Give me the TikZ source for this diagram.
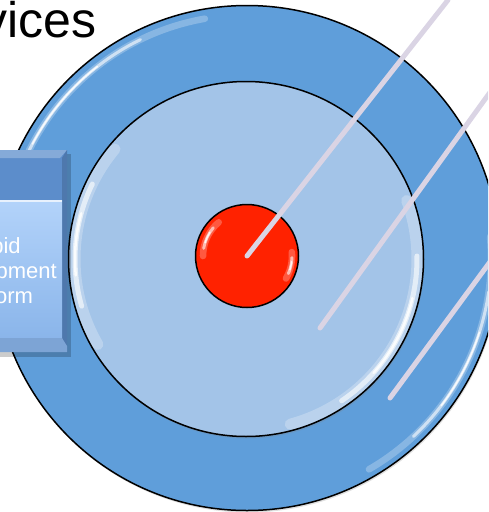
\documentclass[tikz,border=0pt]{standalone}
\usepackage{fontspec}
\setmainfont{Liberation Sans}
\usetikzlibrary{calc,shadows}
\definecolor{Ring}{HTML}{5F9EDA}
\definecolor{Disk}{HTML}{A3C4E8}
\definecolor{Core}{HTML}{FF2200}
\definecolor{Lead}{HTML}{DAD4E4}
\definecolor{Head}{HTML}{5C8DCB}
\definecolor{BodyTop}{HTML}{B3D3FA}
\definecolor{BodyBot}{HTML}{8AB5EA}
\tikzset{
  disc/.style={circle,draw=black,line width=1.5pt,inner sep=0pt},
  softshadow/.style={drop shadow={opacity=.25,shadow xshift=1pt,shadow yshift=-2pt}},
  lead/.style={draw=Lead,line width=5pt,line cap=round},
  gloss/.style={draw=white,line width=3pt,opacity=.6,line cap=round}
}
% soft highlight: centre, radius, from, to, width
\newcommand\glint[5]{%
  \draw[gloss,line width=#5*2.2pt,opacity=.25] ($(#1)+(#3:#2pt)$) arc[start angle=#3,end angle=#4,radius=#2pt];
  \draw[gloss,line width=#5pt] ($(#1)+(#3*.8+#4*.2:#2pt)$) arc[start angle=#3*.8+#4*.2,end angle=#3*.2+#4*.8,radius=#2pt];
  \draw[gloss,line width=#5*.5pt,opacity=.85] ($(#1)+(#3*.65+#4*.35:#2pt)$) arc[start angle=#3*.65+#4*.35,end angle=#3*.35+#4*.65,radius=#2pt];}
\begin{document}
\begin{tikzpicture}[x=1pt,y=-1pt]
  \useasboundingbox (0,0) rectangle (488,512);
  \clip (0,0) rectangle (488,512);
  % rings
  \node[disc,fill=Ring,minimum size=505pt,softshadow] (outer) at (247,258) {};
  \node[disc,fill=Disk,minimum size=355pt,softshadow] (inner) at (246,259) {};
  \node[disc,fill=Core,minimum size=103pt] (core) at (247,256) {};
  % gloss
  \glint{outer.center}{243}{100}{180}{3}
  \glint{outer.center}{244}{5}{-60}{3}
  \glint{inner.center}{171}{140}{210}{5}
  \glint{inner.center}{171}{20}{-75}{5}
  \glint{core.center}{44}{130}{180}{3}
  \glint{core.center}{45}{5}{-30}{3}
  % leader lines
  \coordinate (tipA) at (448,0);
  \coordinate (tipB) at (496,84);
  \coordinate (tipC) at (498,251);
  \draw[lead] (core.center) -- (tipA);
  \draw[lead] (320,328) coordinate (footB) -- (tipB);
  \draw[lead] (390,398) coordinate (footC) -- (tipC);
  % platform box
  \fill[black,opacity=.2] (-10,154) rectangle (71,357);
  \fill[Head] (-10,150) rectangle (67,352);
  \fill[Head!75!white] (-10,150) -- (67,150) -- (60,158) -- (-10,158) -- cycle;
  \fill[Head!85!black] (67,150) -- (67,352) -- (62,346) -- (62,158) -- cycle;
  \shade[top color=BodyTop,bottom color=BodyBot] (-10,200) rectangle (62,338);
  \draw[white,opacity=.7,line width=1.5pt] (-10,201) -- (62,201);
  \fill[Head!80!white] (-10,338) -- (62,338) -- (67,346) -- (67,352) -- (-10,352) -- cycle;
  \node[align=center,text=white,inner sep=0pt,font=\fontsize{22}{25}\selectfont] (rdp) at (-8,271) {Rapid\\Development\\Platform};
  % title
  \node[anchor=base east,inner sep=0pt,font=\fontsize{50}{60}\selectfont] (title) at (97,37) {Services};
\end{tikzpicture}
\end{document}
